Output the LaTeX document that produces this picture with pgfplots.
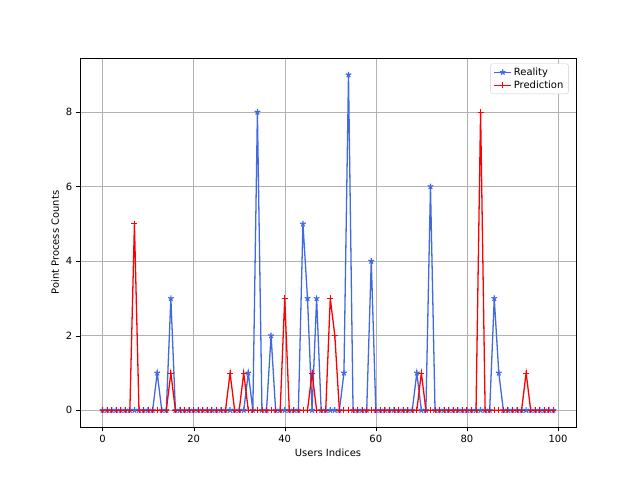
\documentclass[border=0pt]{standalone}
\usepackage{pgfplots}
\pgfplotsset{compat=1.18}
\usepackage{fontspec}
\setmainfont{DejaVu Sans}
\definecolor{royal}{RGB}{65,105,225}
\begin{document}
\begin{tikzpicture}
\path[use as bounding box] (0,0) rectangle (640bp,480bp);
\begin{axis}[at={(80bp,53bp)},anchor=south west,width=496bp,height=369bp,scale only axis,
xmin=-4.95,xmax=103.95,ymin=-0.45,ymax=9.45,
xtick={0,20,40,60,80,100},ytick={0,2,4,6,8},
xtick pos=bottom,ytick pos=left,
grid=major,grid style={gray!60},
tick align=outside,tick style={black},
ticklabel style={font=\fontsize{10}{12}\selectfont},
/pgf/number format/assume math mode=true,
xlabel={Users Indices},ylabel={Point Process Counts},
label style={font=\fontsize{10}{12}\selectfont},
legend style={at={(0.985,0.985)},anchor=north east,font=\fontsize{10}{13}\selectfont,draw=gray!40,rounded corners=2pt},
legend cell align=left]
\addplot[color=royal,line width=1.3pt,mark=star,mark size=3pt,mark options={line width=1.2pt}] coordinates {
(0,0)(1,0)(2,0)(3,0)(4,0)(5,0)(6,0)(7,0)(8,0)(9,0)(10,0)(11,0)(12,1)(13,0)(14,0)(15,3)(16,0)(17,0)(18,0)(19,0)
(20,0)(21,0)(22,0)(23,0)(24,0)(25,0)(26,0)(27,0)(28,0)(29,0)(30,0)(31,0)(32,1)(33,0)(34,8)(35,0)(36,0)(37,2)(38,0)(39,0)
(40,0)(41,0)(42,0)(43,0)(44,5)(45,3)(46,0)(47,3)(48,0)(49,0)(50,0)(51,0)(52,0)(53,1)(54,9)(55,0)(56,0)(57,0)(58,0)(59,4)
(60,0)(61,0)(62,0)(63,0)(64,0)(65,0)(66,0)(67,0)(68,0)(69,1)(70,0)(71,0)(72,6)(73,0)(74,0)(75,0)(76,0)(77,0)(78,0)(79,0)
(80,0)(81,0)(82,0)(83,0)(84,0)(85,0)(86,3)(87,1)(88,0)(89,0)(90,0)(91,0)(92,0)(93,0)(94,0)(95,0)(96,0)(97,0)(98,0)(99,0)};
\addlegendentry{Reality}
\addplot[color=red,line width=1.3pt,mark=+,mark size=3pt,mark options={line width=0.9pt}] coordinates {
(0,0)(1,0)(2,0)(3,0)(4,0)(5,0)(6,0)(7,5)(8,0)(9,0)(10,0)(11,0)(12,0)(13,0)(14,0)(15,1)(16,0)(17,0)(18,0)(19,0)
(20,0)(21,0)(22,0)(23,0)(24,0)(25,0)(26,0)(27,0)(28,1)(29,0)(30,0)(31,1)(32,0)(33,0)(34,0)(35,0)(36,0)(37,0)(38,0)(39,0)
(40,3)(41,0)(42,0)(43,0)(44,0)(45,0)(46,1)(47,0)(48,0)(49,0)(50,3)(51,2)(52,0)(53,0)(54,0)(55,0)(56,0)(57,0)(58,0)(59,0)
(60,0)(61,0)(62,0)(63,0)(64,0)(65,0)(66,0)(67,0)(68,0)(69,0)(70,1)(71,0)(72,0)(73,0)(74,0)(75,0)(76,0)(77,0)(78,0)(79,0)
(80,0)(81,0)(82,0)(83,8)(84,0)(85,0)(86,0)(87,0)(88,0)(89,0)(90,0)(91,0)(92,0)(93,1)(94,0)(95,0)(96,0)(97,0)(98,0)(99,0)};
\addlegendentry{Prediction}
\end{axis}
\end{tikzpicture}
\end{document}
